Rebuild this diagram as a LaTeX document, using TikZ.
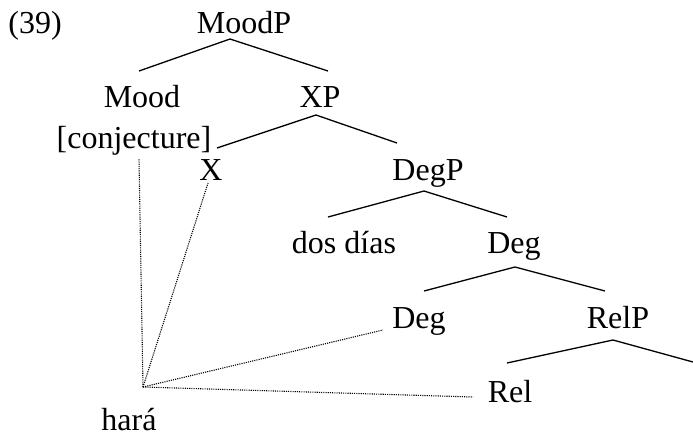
\documentclass[tikz,border=0pt]{standalone}
\usepackage{fontspec}
\setmainfont{Liberation Serif}
\begin{document}
\begin{tikzpicture}[x=0.5pt,y=-0.5pt,
  lbl/.style={inner sep=0pt,anchor=base,font=\fontsize{16}{18}\selectfont},
  branch/.style={line width=0.65pt,line join=miter},
  assoc/.style={line width=0.55pt,dash pattern=on 0.55pt off 0.55pt}]
\useasboundingbox (0,0) rectangle (693,441);
% labels
\node[lbl,anchor=base west] (ex) at (8,33) {(39)};
\node[lbl] (moodp) at (244,33) {MoodP};
\node[lbl] (mood) at (142,107) {Mood};
\node[lbl] (conj) at (134,148) {[conjecture]};
\node[lbl] (xp) at (320,107) {XP};
\node[lbl] (x) at (211,180) {X};
\node[lbl] (degp) at (428,180) {DegP};
\node[lbl] (dos) at (344,253) {dos días};
\node[lbl] (deg1) at (514,253) {Deg};
\node[lbl] (deg2) at (419,328) {Deg};
\node[lbl] (relp) at (618,328) {RelP};
\node[lbl] (rel) at (510,402) {Rel};
\node[lbl] (hara) at (129,430) {hará};
% branch coordinates
\coordinate (a1) at (230,39);  \coordinate (a1l) at (139,71);  \coordinate (a1r) at (328,71);
\coordinate (a2) at (316,115); \coordinate (a2l) at (217,148); \coordinate (a2r) at (397,143);
\coordinate (a3) at (424,191); \coordinate (a3l) at (328,217); \coordinate (a3r) at (507,217);
\coordinate (a4) at (515,267); \coordinate (a4l) at (424,291); \coordinate (a4r) at (605,291);
\coordinate (a5) at (613,340); \coordinate (a5l) at (507,363); \coordinate (a5r) at (693,362);
\draw[branch] (a1l) -- (a1) -- (a1r);
\draw[branch] (a2l) -- (a2) -- (a2r);
\draw[branch] (a3l) -- (a3) -- (a3r);
\draw[branch] (a4l) -- (a4) -- (a4r);
\draw[branch] (a5l) -- (a5) -- (a5r);
% dotted association lines
\coordinate (hub) at (143,387);
\coordinate (t1) at (139,159);
\coordinate (t2) at (208,183);
\coordinate (t3) at (383,330);
\coordinate (t4) at (473,397);
\draw[assoc] (hub) -- (t1);
\draw[assoc] (hub) -- (t2);
\draw[assoc] (hub) -- (t3);
\draw[assoc] (hub) -- (t4);
\end{tikzpicture}
\end{document}
